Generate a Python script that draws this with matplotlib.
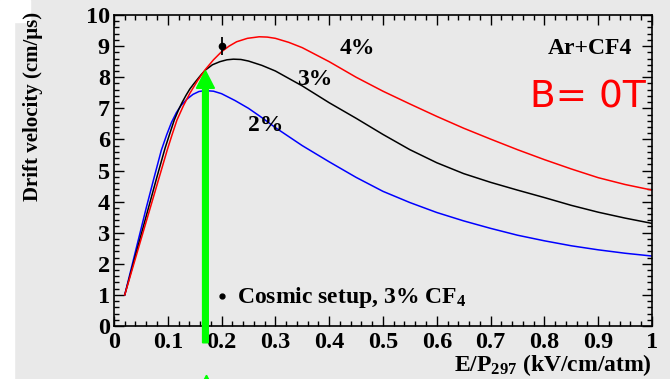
import matplotlib
matplotlib.use('Agg')
import matplotlib.pyplot as plt
import matplotlib.ticker as mticker
from matplotlib.patches import Rectangle

# Drift velocity curves (x = E/P, y = cm/us)
x_2pc = [0.02, 0.04, 0.06, 0.075, 0.088, 0.098, 0.107, 0.116, 0.125, 0.136, 0.147, 0.158,
         0.17, 0.185, 0.20, 0.225, 0.25, 0.275, 0.30, 0.35, 0.40, 0.45, 0.50, 0.55,
         0.60, 0.65, 0.70, 0.75, 0.80, 0.85, 0.90, 0.95, 1.0]
v_2pc = [1.0, 2.4, 3.8, 4.8, 5.65, 6.15, 6.55, 6.86, 7.1, 7.3, 7.45, 7.54,
         7.57, 7.55, 7.47, 7.25, 7.0, 6.7, 6.38, 5.8, 5.28, 4.78, 4.33, 3.97,
         3.65, 3.38, 3.14, 2.92, 2.74, 2.58, 2.45, 2.34, 2.25]

x_3pc = [0.02, 0.04, 0.06, 0.08, 0.095, 0.104, 0.112, 0.12, 0.127, 0.134, 0.141, 0.148,
         0.155, 0.162, 0.17, 0.183, 0.197, 0.21, 0.222, 0.236, 0.25, 0.275, 0.30, 0.35,
         0.40, 0.45, 0.50, 0.55, 0.60, 0.65, 0.70, 0.75, 0.80, 0.85, 0.90, 0.95, 1.0]
v_3pc = [1.0, 2.27, 3.54, 4.8, 5.72, 6.2, 6.62, 6.95, 7.2, 7.42, 7.62, 7.78,
         7.93, 8.08, 8.23, 8.4, 8.50, 8.56, 8.58, 8.57, 8.52, 8.38, 8.2, 7.72,
         7.18, 6.68, 6.16, 5.67, 5.25, 4.9, 4.62, 4.37, 4.13, 3.88, 3.66, 3.47, 3.30]

x_4pc = [0.02, 0.04, 0.06, 0.08, 0.099, 0.108, 0.117, 0.129, 0.141, 0.155, 0.17, 0.185,
         0.20, 0.214, 0.228, 0.248, 0.27, 0.285, 0.30, 0.325, 0.35, 0.40, 0.45, 0.50,
         0.55, 0.60, 0.65, 0.70, 0.75, 0.80, 0.85, 0.90, 0.95, 1.0]
v_4pc = [1.0, 2.18, 3.36, 4.54, 5.66, 6.15, 6.62, 7.08, 7.48, 7.88, 8.25, 8.56,
         8.82, 9.0, 9.14, 9.25, 9.30, 9.29, 9.25, 9.12, 8.95, 8.5, 8.0, 7.55,
         7.14, 6.74, 6.36, 6.01, 5.67, 5.35, 5.05, 4.77, 4.55, 4.37]

# Cosmic setup measurement
cosmic_x = [0.2]
cosmic_v = [9.0]
cosmic_err = [0.3]

x_ticks = [0, 0.1, 0.2, 0.3, 0.4, 0.5, 0.6, 0.7, 0.8, 0.9, 1]
y_ticks = [0, 1, 2, 3, 4, 5, 6, 7, 8, 9, 10]

bg = '#e9e9e9'
serif = 'Liberation Serif'
plt.rcParams['font.family'] = [serif, 'DejaVu Serif']
plt.rcParams['font.weight'] = 'bold'
plt.rcParams['mathtext.fontset'] = 'custom'
plt.rcParams['mathtext.rm'] = 'Liberation Serif:bold'
plt.rcParams['mathtext.it'] = 'Liberation Serif:italic:bold'
plt.rcParams['mathtext.bf'] = 'Liberation Serif:bold'

fig = plt.figure(figsize=(6.70, 3.79), dpi=100, facecolor=bg)
ax = fig.add_axes([0.1701, 0.1398, 0.8030, 0.8206])
ax.set_facecolor(bg)

# white margins of the screenshot
fig.add_artist(Rectangle((0, 0), 14 / 670, 1, transform=fig.transFigure,
                         color='white', zorder=0))
fig.add_artist(Rectangle((0, 1 - 22 / 379), 30 / 670, 22 / 379,
                         transform=fig.transFigure, color='white', zorder=0))

ax.plot(x_2pc, v_2pc, color='#0000ff', lw=1.1)
ax.plot(x_3pc, v_3pc, color='black', lw=1.1)
ax.plot(x_4pc, v_4pc, color='#ff0000', lw=1.1)

ax.errorbar(cosmic_x, cosmic_v, yerr=cosmic_err, fmt='o', color='black',
            ms=4.5, elinewidth=1.3, capsize=0)

ax.set_xlim(0, 1)
ax.set_ylim(0, 10)
ax.xaxis.set_major_locator(mticker.FixedLocator(x_ticks))
ax.xaxis.set_major_formatter(mticker.FuncFormatter(lambda v, p: f'{v:g}'))
ax.xaxis.set_minor_locator(mticker.MultipleLocator(0.02))
ax.yaxis.set_major_locator(mticker.FixedLocator(y_ticks))
ax.yaxis.set_minor_locator(mticker.MultipleLocator(0.2))
ax.tick_params(which='both', direction='in', top=True, right=True, width=1.0,
               labelsize=17.5, colors='black')
ax.tick_params(which='major', length=7.5)
ax.tick_params(which='minor', length=3.6)
ax.tick_params(axis='x', pad=4)
ax.tick_params(axis='y', pad=3)
for s in ax.spines.values():
    s.set_linewidth(1.2)

ax.set_ylabel('Drift velocity (cm/\u03bcs)', fontsize=15, fontweight='bold', loc='top')
ax.yaxis.set_label_coords(-0.132, 1.01)
ax.set_xlabel('E/P$_\\mathrm{297}$ (kV/cm/atm)', fontsize=17, fontweight='bold', loc='right')
ax.xaxis.set_label_coords(1.0, -0.083)

ax.text(0.42, 8.75, '4%', fontsize=17, fontweight='bold')
ax.text(0.3396, 7.75, '3%', fontsize=17, fontweight='bold')
ax.text(0.2497, 6.27, '2%', fontsize=17, fontweight='bold')
ax.text(0.963, 8.75, 'Ar+CF4', fontsize=17, fontweight='bold', ha='right')
ax.text(0.773, 7.01, 'B= 0T', fontsize=27, color='#ff0000',
        family='DejaVu Sans', fontweight='normal')

# legend entry
ax.plot([0.2], [0.965], 'o', color='black', ms=3.5)
ax.text(0.228, 0.73, 'Cosmic setup, 3% CF$_\\mathrm{4}$', fontsize=17, fontweight='bold')

# green arrows
ax.arrow(0.170, -0.54, 0, 8.75 - 0.566, width=0.0106, head_width=0.0335,
         head_length=0.566, color='#00ff00', clip_on=False, zorder=10,
         length_includes_head=False)
ax.arrow(0.172, -2.6, 0, 0.45, width=0.0106, head_width=0.0335,
         head_length=0.566, color='#00ff00', clip_on=False, zorder=10)

fig.savefig('out.png', dpi=100, facecolor=bg)
